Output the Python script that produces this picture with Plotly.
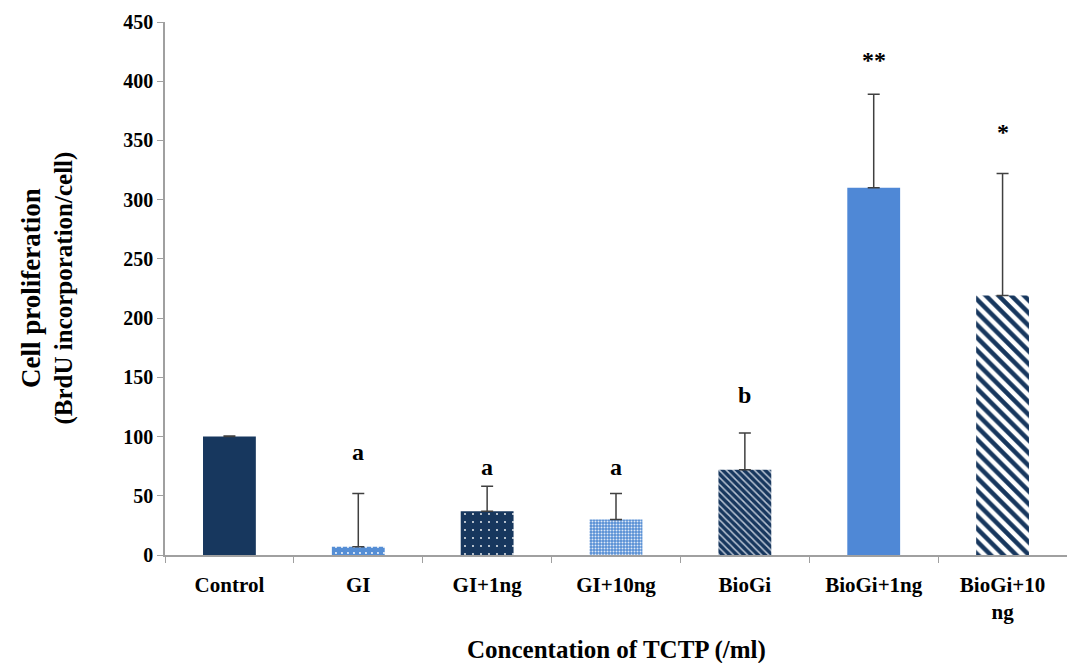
import plotly.graph_objects as go

categories = ["Control", "GI", "GI+1ng", "GI+10ng", "BioGi", "BioGi+1ng", "BioGi+10<br>ng"]
values = [100, 7, 37, 30, 72, 310, 219]
errors = [0.5, 45, 21, 22, 31, 79, 103]
sig_labels = ["", "a", "a", "a", "b", "**", "*"]
sig_y = [None, 87, 74, 74, 135, 418, 357]
tick_vals = [0, 50, 100, 150, 200, 250, 300, 350, 400, 450]
x_title = "Concentation of TCTP (/ml)"
y_title = ["Cell proliferation", "(BrdU incorporation/cell)"]

navy = "#17375e"
light = "#558ed5"
mid = "#4f88d6"

styles = [
    dict(bg=navy, shape="", fg="white", size=8, sol=0.3),
    dict(bg=light, shape=".", fg="white", size=6, sol=0.08),
    dict(bg=navy, shape=".", fg="white", size=8, sol=0.04),
    dict(bg=light, shape=".", fg="#dfe9f7", size=3, sol=0.35),
    dict(bg=navy, shape="\\", fg="#b8c3d3", size=5, sol=0.3),
    dict(bg=mid, shape="", fg="white", size=8, sol=0.3),
    dict(bg="white", shape="\\", fg=navy, size=9, sol=0.5),
]

fig = go.Figure()
for i, (c, v, e) in enumerate(zip(categories, values, errors)):
    s = styles[i]
    fig.add_trace(go.Bar(
        x=[c], y=[v],
        width=0.41,
        marker=dict(
            color=s["bg"],
            line=dict(width=0),
            pattern=dict(shape=s["shape"], fgcolor=s["fg"], bgcolor=s["bg"], size=s["size"],
                         solidity=s["sol"], fillmode="replace"),
        ),
        error_y=dict(type="data", array=[e], arrayminus=[0], symmetric=False,
                     color="#404040", thickness=1.5, width=6),
        showlegend=False,
    ))

for c, s, yy in zip(categories, sig_labels, sig_y):
    if s:
        fig.add_annotation(x=c, y=yy, text="<b>" + s + "</b>", showarrow=False,
                           font=dict(family="Liberation Serif", size=24, color="black"))

fig.add_annotation(xref="paper", yref="paper", x=0.5, y=0, yanchor="middle", xanchor="center",
                   yshift=-95, text="<b>" + x_title + "</b>", showarrow=False,
                   font=dict(family="Liberation Serif", size=25, color="black"))
fig.add_annotation(xref="paper", yref="paper", x=0, y=0.5, xanchor="center", yanchor="middle",
                   xshift=-118, textangle=-90,
                   text="<b><span style='font-size:27px'>" + y_title[0] + "</span><br>" + y_title[1] + "</b>",
                   showarrow=False, font=dict(family="Liberation Serif", size=25, color="black"))

fig.update_layout(
    width=1059, height=655,
    margin=dict(l=157, r=0, t=14, b=108),
    paper_bgcolor="white", plot_bgcolor="white",
    font=dict(family="Liberation Serif", color="black"),
    barmode="overlay",
    xaxis=dict(
        categoryorder="array", categoryarray=categories, automargin=False,
        showline=True, linecolor="#a0a0a0", linewidth=1.5,
        ticks="outside", tickson="boundaries", ticklen=6, tickcolor="#a0a0a0",
        ticklabelstandoff=10,
        tickfont=dict(family="Liberation Serif", size=21, color="black", weight="bold"),
    ),
    yaxis=dict(
        range=[0, 450], tickvals=tick_vals, showgrid=False, zeroline=False, automargin=False,
        showline=True, linecolor="#a0a0a0", linewidth=1.5,
        ticks="outside", ticklen=6, tickcolor="#a0a0a0",
        tickfont=dict(family="Liberation Serif", size=20, color="black", weight="bold"),
    ),
)

fig.write_html("out.html")
